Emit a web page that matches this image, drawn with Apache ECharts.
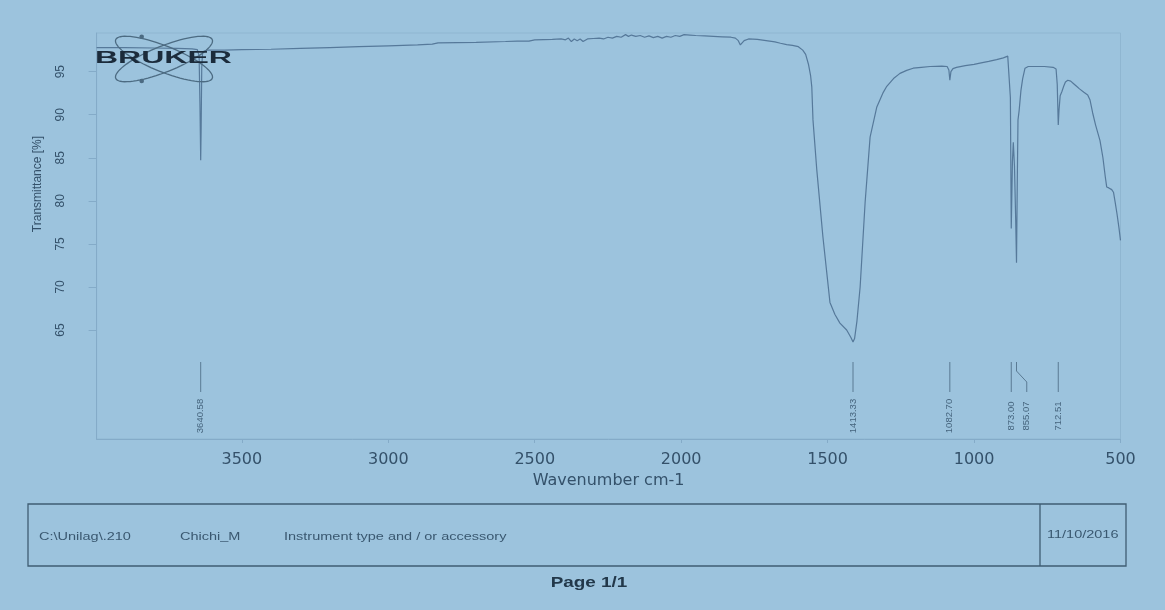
<!DOCTYPE html>
<html><head><meta charset="utf-8">
<script src="https://cdn.jsdelivr.net/npm/echarts@6/dist/echarts.min.js"></script>
<style>html,body{margin:0;padding:0;background:#9cc3dd;}#c{width:1165px;height:610px;}</style>
</head><body><div id="c"></div>
<script>
// ---- data ----
const wavenumbers = [3996,3900,3800,3720,3670,3652,3646,3643,3640.58,3639,3637,3634,3620,3560,3500,3400,3300,3200,3100,3000,2900,2850,2830,2700,2600,2560,2520,2500,2440,2410,2395,2385,2375,2365,2355,2345,2335,2320,2300,2280,2265,2250,2235,2220,2205,2190,2180,2170,2155,2140,2125,2110,2095,2080,2065,2050,2035,2020,2005,1990,1970,1950,1920,1890,1860,1830,1815,1805,1798,1792,1785,1770,1740,1710,1680,1661,1640,1620,1600,1585,1575,1565,1558,1554,1550,1537,1516,1492,1475,1458,1435,1420,1413.33,1408,1400,1389,1372,1355,1332,1310,1298,1275,1253,1230,1208,1180,1150,1110,1092,1086,1082.7,1079,1072,1060,1030,1000,980,950,923,900,885,879,876,873,869,866,862,858,855.07,852.5,850,846,840,834,826,815,800,760,730,720,716,712.51,710,706,700,694,688,680,670,660,650,640,625,612,604,595,585,570,560,552,547,540,530,524,518,512,505,500];
const transmittance = [97.8,97.8,97.75,97.7,97.65,97.55,96.8,91.0,84.7,88.5,95.5,97.3,97.5,97.5,97.55,97.6,97.7,97.8,97.9,98.0,98.1,98.2,98.35,98.4,98.5,98.55,98.55,98.7,98.75,98.8,98.7,98.9,98.5,98.8,98.6,98.8,98.5,98.8,98.85,98.9,98.8,99.0,98.9,99.1,99.0,99.3,99.1,99.25,99.1,99.2,99.0,99.15,98.95,99.1,98.9,99.1,99.0,99.2,99.1,99.3,99.25,99.2,99.15,99.1,99.05,99.0,98.9,98.6,98.1,98.3,98.6,98.8,98.75,98.6,98.45,98.3,98.15,98.05,97.9,97.5,97.0,95.8,94.5,93.2,89.4,83.6,75.8,68.2,66.8,65.8,65.0,64.1,63.6,64.0,66.0,70.0,79.8,87.4,90.9,92.6,93.3,94.2,94.8,95.15,95.4,95.5,95.6,95.65,95.6,95.2,94.0,95.0,95.35,95.5,95.7,95.85,96.0,96.2,96.4,96.6,96.8,96.6,92.0,76.8,84.5,86.8,84.0,78.0,72.8,82.0,89.4,90.5,92.8,94.2,95.4,95.6,95.6,95.6,95.5,95.3,93.5,88.8,90.5,92.2,92.7,93.3,93.8,94.0,93.9,93.6,93.3,93.0,92.6,92.3,91.7,90.2,88.8,87.0,85.0,82.8,81.6,81.5,81.3,81.0,79.8,78.5,76.8,75.4];
const peakPositions = [3640.58, 1413.33, 1082.70, 873.00, 855.07, 712.51];
const xTickValues = [3500, 3000, 2500, 2000, 1500, 1000, 500];
const yTickValues = [65, 70, 75, 80, 85, 90, 95];
const xAxisTitle = 'Wavenumber cm-1';
const yAxisTitle = 'Transmittance [%]';
const footerFields = ['C:\\Unilag\\.210', 'Chichi_M', 'Instrument type and / or accessory'];
const footerDate = '11/10/2016';
const pageText = 'Page 1/1';
const logoText = 'BRUKER';

// ---- chart ----
const TXT = '#34516a', LINE = '#56799a', AX = '#84abc8';
const chart = echarts.init(document.getElementById('c'), null, {renderer: 'canvas'});

function ellipsePts(cx, cy, a, b, ang) {
  const pts = [], c = Math.cos(ang), s = Math.sin(ang);
  for (let k = 0; k <= 72; k++) {
    const t = k / 72 * Math.PI * 2, x = a * Math.cos(t), y = b * Math.sin(t);
    pts.push([cx + x * c - y * s, cy + x * s + y * c]);
  }
  return pts;
}

const option = {
  backgroundColor: '#9cc3dd',
  animation: false,
  grid: {left: 96.6, right: 44.5, top: 33, bottom: 171, show: true, borderColor: '#8fb6d1', borderWidth: 1, backgroundColor: 'transparent'},
  xAxis: {
    type: 'value', inverse: true, min: 500, max: 3996,
    name: xAxisTitle, nameLocation: 'middle', nameGap: 33,
    nameTextStyle: {fontFamily: 'DejaVu Sans', fontSize: 16, color: TXT},
    axisLine: {show: true, lineStyle: {color: AX, width: 1}},
    axisTick: {show: true, length: 4, customValues: xTickValues, lineStyle: {color: AX}},
    axisLabel: {customValues: xTickValues, formatter: v => String(v), fontFamily: 'DejaVu Sans', fontSize: 16, color: TXT, margin: 13},
    splitLine: {show: false}
  },
  yAxis: {
    type: 'value', min: 52.34, max: 99.49,
    axisLine: {show: true, lineStyle: {color: AX, width: 1}},
    axisTick: {show: true, length: 8, customValues: yTickValues, lineStyle: {color: AX}},
    axisLabel: {customValues: yTickValues, formatter: v => String(v), rotate: 90, fontFamily: 'Liberation Sans', fontSize: 12, color: TXT, margin: 30},
    splitLine: {show: false}
  },
  series: [
    {
      type: 'line', showSymbol: false, silent: true,
      data: wavenumbers.map((w, i) => [w, transmittance[i]]),
      lineStyle: {color: LINE, width: 1.2}, z: 3
    },
    {
      type: 'custom', silent: true, clip: false, z: 4,
      data: peakPositions.map(p => [p, 60]),
      encode: {x: 0, y: 1},
      renderItem: function (params, api) {
        const cs = params.coordSys;
        const bottom = cs.y + cs.height;
        const xs = peakPositions.map(p => api.coord([p, 60])[0]);
        const lx = xs.slice();
        for (let i = 1; i < lx.length; i++) {
          if (lx[i] - lx[i - 1] < 14) lx[i] = lx[i - 1] + 15.5;
        }
        const i = params.dataIndex, x = xs[i], l = lx[i];
        const yTop = bottom - 77, yBot = bottom - 47;
        const pts = Math.abs(l - x) < 0.5 ? [[x, yTop], [x, yBot]]
          : [[x, yTop], [x, yTop + 9], [l, yTop + 20], [l, yBot]];
        return {
          type: 'group', children: [
            {type: 'polyline', shape: {points: pts}, style: {stroke: '#5a7a93', lineWidth: 1, fill: null}},
            {type: 'text', x: l, y: bottom - 23, rotation: Math.PI / 2,
             style: {text: peakPositions[i].toFixed(2), font: '9.5px "Liberation Sans"', fill: '#46657e', align: 'center', verticalAlign: 'middle'}}
          ]
        };
      }
    }
  ],
  graphic: [
    {type: 'text', x: 38, y: 184, rotation: Math.PI / 2,
     style: {text: yAxisTitle, font: '12px "Liberation Sans"', fill: TXT, align: 'center', verticalAlign: 'middle'}},
    {type: 'polyline', z: 10, shape: {points: ellipsePts(164, 59, 52, 13, 0.38)}, style: {stroke: '#4c6b82', lineWidth: 1.3, fill: null}},
    {type: 'polyline', z: 10, shape: {points: ellipsePts(164, 59, 52, 13, -0.38)}, style: {stroke: '#4c6b82', lineWidth: 1.3, fill: null}},
    {type: 'circle', z: 10, shape: {cx: 141.7, cy: 36.7, r: 2.3}, style: {fill: '#4c6b82'}},
    {type: 'circle', z: 10, shape: {cx: 141.7, cy: 81, r: 2.3}, style: {fill: '#4c6b82'}},
    {type: 'text', z: 11, x: 95, y: 59, scaleX: 2.0,
     style: {text: logoText, font: 'bold 16px "Liberation Sans"', fill: '#1b2b3b', align: 'left', verticalAlign: 'middle'}},
    {type: 'rect', shape: {x: 28, y: 504, width: 1098, height: 62}, style: {fill: null, stroke: '#3f5d73', lineWidth: 1.3}},
    {type: 'line', shape: {x1: 1040, y1: 504, x2: 1040, y2: 566}, style: {stroke: '#3f5d73', lineWidth: 1.3}},
    {type: 'text', x: 39, y: 537, scaleX: 1.45, style: {text: footerFields[0], font: '10px "Liberation Sans"', fill: '#3a5870', align: 'left', verticalAlign: 'middle'}},
    {type: 'text', x: 180, y: 537, scaleX: 1.45, style: {text: footerFields[1], font: '10px "Liberation Sans"', fill: '#3a5870', align: 'left', verticalAlign: 'middle'}},
    {type: 'text', x: 284, y: 537, scaleX: 1.45, style: {text: footerFields[2], font: '10px "Liberation Sans"', fill: '#3a5870', align: 'left', verticalAlign: 'middle'}},
    {type: 'text', x: 1047, y: 535, scaleX: 1.45, style: {text: footerDate, font: '10px "Liberation Sans"', fill: '#3a5870', align: 'left', verticalAlign: 'middle'}},
    {type: 'text', x: 589, y: 583, scaleX: 1.35, style: {text: pageText, font: 'bold 14px "Liberation Sans"', fill: '#22384a', align: 'center', verticalAlign: 'middle'}}
  ]
};
chart.setOption(option);
</script>
</body></html>
